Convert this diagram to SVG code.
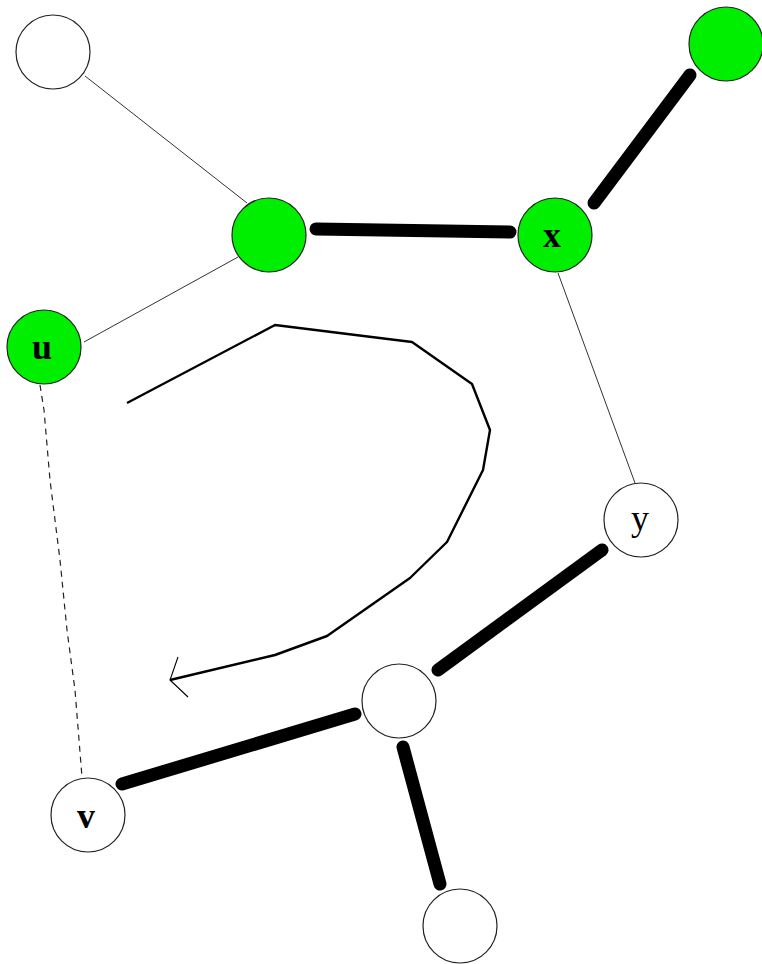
<svg xmlns="http://www.w3.org/2000/svg" width="762" height="964" viewBox="0 0 762 964">
  <style>
    .node { stroke: #222; stroke-width: 1.2; }
    .green { fill: #00ee00; }
    .white { fill: #ffffff; }
    .thin { stroke: #333; stroke-width: 1; fill: none; }
    .dashed { stroke: #222; stroke-width: 1.2; fill: none; stroke-dasharray: 6 5; }
    .thick { stroke: #000; stroke-width: 13; stroke-linecap: round; fill: none; }
    .walk { stroke: #000; stroke-width: 2.4; fill: none; stroke-linejoin: round; }
    .head { stroke: #000; stroke-width: 1.1; fill: none; }
    .label { font-family: "Liberation Serif", "Times New Roman", serif; font-size: 36px; fill: #000; text-anchor: middle; }
    .bold { font-weight: bold; }
  </style>
  <rect width="762" height="964" fill="#ffffff"/>

  <g id="connectors">
    <line class="thin" x1="85" y1="76" x2="247" y2="203"/>
    <line class="thin" x1="84" y1="342" x2="238" y2="257"/>
    <line class="thin" x1="558" y1="273" x2="635" y2="483"/>
    <polyline class="dashed" points="40,385 44,410 50,480 60,560 67,630 75,690 82,777"/>
    <line class="thick" x1="316" y1="229" x2="510" y2="232"/>
    <line class="thick" x1="594" y1="203" x2="690" y2="75"/>
    <line class="thick" x1="602" y1="550" x2="438" y2="670"/>
    <line class="thick" x1="122" y1="784" x2="355" y2="714"/>
    <line class="thick" x1="403" y1="747" x2="440" y2="884"/>
  </g>

  <g id="walk">
    <polyline class="walk" points="127,403 275,325 412,342 472,384 490,430 483,470 447,542 410,578 327,636 275,655 170,680"/>
    <polyline class="head" points="178,657 170,680 188,697"/>
  </g>

  <g id="n-topleft"><circle class="node white" cx="53" cy="52" r="37"/></g>
  <g id="n-topright"><circle class="node green" cx="726" cy="44" r="37"/></g>
  <g id="n-mid"><circle class="node green" cx="269" cy="235" r="37"/></g>
  <g id="n-x">
    <circle class="node green" cx="555" cy="235" r="37"/>
    <text class="label bold" x="552" y="247">x</text>
  </g>
  <g id="n-u">
    <circle class="node green" cx="44" cy="347" r="37"/>
    <text class="label bold" x="42" y="359">u</text>
  </g>
  <g id="n-y">
    <circle class="node white" cx="641" cy="520" r="37"/>
    <text class="label" x="640" y="530">y</text>
  </g>
  <g id="n-center"><circle class="node white" cx="399" cy="701" r="37"/></g>
  <g id="n-v">
    <circle class="node white" cx="88" cy="815" r="37"/>
    <text class="label bold" x="86" y="828">v</text>
  </g>
  <g id="n-bottom"><circle class="node white" cx="460" cy="926" r="37"/></g>
</svg>
